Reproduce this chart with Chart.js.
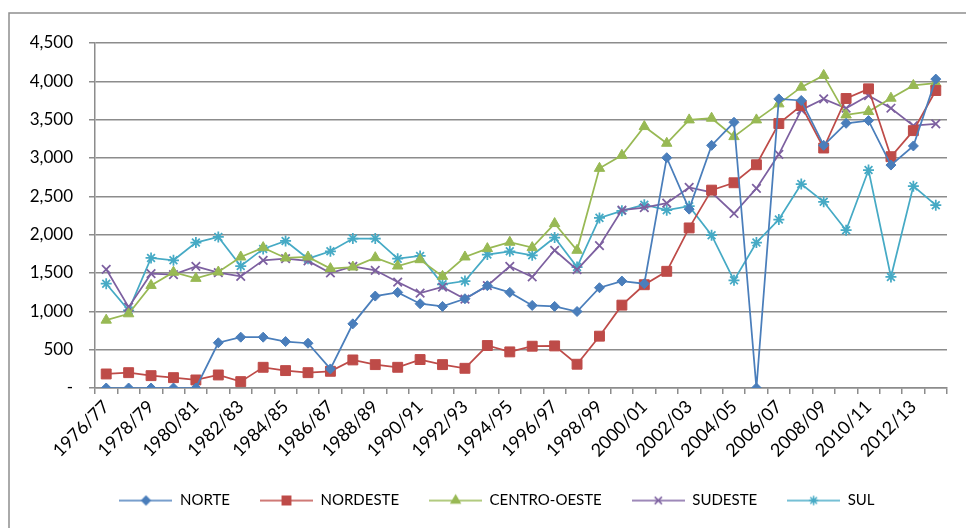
<!DOCTYPE html>
<html>
<head>
<meta charset="utf-8">
<script src="https://cdn.jsdelivr.net/npm/chart.js@4/dist/chart.umd.min.js"></script>
<style>
  html, body { margin: 0; padding: 0; background: #fff; overflow: hidden; }
  #wrap { position: relative; width: 966px; height: 528px; }
</style>
</head>
<body>
<div id="wrap"><canvas id="c" width="966" height="528"></canvas></div>
<script>
const categories = [
  "1976/77","1977/78","1978/79","1979/80","1980/81","1981/82","1982/83","1983/84","1984/85","1985/86",
  "1986/87","1987/88","1988/89","1989/90","1990/91","1991/92","1992/93","1993/94","1994/95","1995/96",
  "1996/97","1997/98","1998/99","1999/00","2000/01","2001/02","2002/03","2003/04","2004/05","2005/06",
  "2006/07","2007/08","2008/09","2009/10","2010/11","2011/12","2012/13","2013/14"
];
const norte = [0,0,0,0,0,590,663,663,606,584,249,837,1199,1247,1099,1064,1164,1334,1247,1077,
  1064,998,1308,1395,1360,3004,2333,3165,3466,0,3771,3750,3165,3453,3488,2908,3157,4029];
const nordeste = [183,200,161,135,105,170,83,270,227,200,218,366,305,270,371,305,257,554,471,545,
  549,310,676,1081,1347,1522,2088,2581,2677,2912,3449,3684,3130,3776,3902,3017,3357,3880];
const centroOeste = [885,968,1338,1510,1430,1513,1709,1831,1696,1709,1557,1578,1700,1591,1674,1456,1709,1818,1901,1831,
  2145,1796,2865,3035,3410,3192,3497,3519,3279,3497,3706,3924,4077,3562,3606,3780,3946,3976];
const sudeste = [1548,1055,1491,1478,1587,1504,1456,1666,1687,1657,1500,1587,1535,1382,1238,1317,1160,1334,1587,1448,
  1796,1543,1857,2320,2354,2411,2616,2551,2276,2603,3048,3628,3771,3649,3815,3649,3423,3444];
const sul = [1360,1012,1696,1666,1897,1971,1591,1814,1918,1687,1783,1949,1949,1687,1722,1352,1395,1740,1783,1731,
  1962,1578,2219,2311,2390,2320,2372,1993,1404,1897,2197,2660,2429,2058,2843,1448,2633,2385];
const seriesNames = ["NORTE","NORDESTE","CENTRO-OESTE","SUDESTE","SUL"];
const yTicks = [0,500,1000,1500,2000,2500,3000,3500,4000,4500];

const FONT = "Lato, 'Open Sans', sans-serif";
const FS = 18;
const styles = [
  { color: "#4a7ebb", point: "rectRot", r: 5 },
  { color: "#be4b48", point: "rect", r: 7 },
  { color: "#98b954", point: "triangle", r: 6 },
  { color: "#7d60a0", point: "crossRot", r: 6 },
  { color: "#46aac5", point: "star", r: 5.5 }
];
const seriesData = [norte, nordeste, centroOeste, sudeste, sul];

const borderPlugin = {
  id: "outerBorder",
  beforeDraw(chart) {
    const ctx = chart.ctx;
    ctx.save();
    ctx.fillStyle = "#ffffff";
    ctx.fillRect(0, 0, chart.width, chart.height);
    ctx.strokeStyle = "#8f8f8f";
    ctx.lineWidth = 1.5;
    ctx.beginPath();
    ctx.moveTo(9, chart.height + 2);
    ctx.lineTo(9, 13);
    ctx.lineTo(chart.width + 2, 13);
    ctx.stroke();
    ctx.restore();
  }
};

const datasets = seriesData.map((d, i) => ({
  label: seriesNames[i],
  data: d,
  yAxisID: "y",
  borderColor: styles[i].color,
  backgroundColor: styles[i].color,
  borderWidth: 1.75,
  pointStyle: styles[i].point,
  pointRadius: styles[i].r,
  pointHoverRadius: styles[i].r,
  pointBorderWidth: (i >= 3) ? 1.75 : 1,
  pointBorderColor: styles[i].color,
  pointBackgroundColor: styles[i].color,
  tension: 0,
  fill: false
}));

new Chart(document.getElementById("c"), {
  type: "line",
  data: { labels: categories, datasets },
  plugins: [borderPlugin],
  options: {
    responsive: false,
    animation: false,
    devicePixelRatio: 1,
    layout: { padding: { left: 28, right: 0, top: 43, bottom: 10 } },
    plugins: {
      tooltip: { enabled: false },
      legend: {
        position: "bottom",
        labels: {
          usePointStyle: true,
          pointStyleWidth: 53,
          padding: 30,
          color: "#000",
          font: { family: FONT, size: 15 },
          generateLabels(chart) {
            return chart.data.datasets.map((ds, i) => {
              const cv = document.createElement("canvas");
              cv.width = 53; cv.height = 16;
              const c = cv.getContext("2d");
              c.strokeStyle = styles[i].color; c.fillStyle = styles[i].color; c.lineWidth = 1.75;
              c.globalAlpha = 0.85;
              c.beginPath(); c.moveTo(0, 8); c.lineTo(53, 8); c.stroke();
              c.globalAlpha = 1;
              c.lineWidth = 1.5;
              Chart.helpers.drawPoint(c, { pointStyle: styles[i].point, radius: styles[i].r * 0.85, borderWidth: 1.5, rotation: 0 }, 26.5, 8);
              return {
                text: ds.label,
                fillStyle: styles[i].color,
                strokeStyle: styles[i].color,
                pointStyle: cv,
                lineWidth: 0,
                hidden: false,
                datasetIndex: i,
                fontColor: "#000"
              };
            });
          }
        }
      }
    },
    scales: {
      x: {
        type: "category",
        offset: true,
        afterFit(axis) { axis.height = 75; },
        grid: {
          offset: true,
          drawOnChartArea: false,
          drawTicks: true,
          tickLength: 6,
          color: "#8c8c8c",
          lineWidth: 1.5
        },
        border: { color: "#8c8c8c", width: 1.5 },
        ticks: {
          autoSkip: false,
          maxRotation: 45,
          minRotation: 45,
          color: "#000",
          padding: 2,
          font: { family: FONT, size: FS },
          callback(v, i) { return i % 2 === 0 ? categories[i] : ""; }
        }
      },
      y: {
        position: "left",
        min: 0,
        max: 4500,
        afterFit(axis) { axis.width = 67; },
        afterBuildTicks(axis) { axis.ticks = yTicks.map(v => ({ value: v })); },
        grid: {
          color: "#8c8c8c",
          lineWidth: 1.5,
          tickLength: 6,
          drawTicks: true
        },
        border: { color: "#8c8c8c", width: 1.5 },
        ticks: {
          color: "#000",
          padding: 16,
          font: { family: FONT, size: FS - 1 },
          callback(v) { return v === 0 ? "-" : v.toLocaleString("en-US"); }
        }
      },
      yRight: {
        type: "linear",
        position: "right",
        display: true,
        min: 0,
        max: 4500,
        afterFit(axis) { axis.width = 19; },
        grid: { drawOnChartArea: false, drawTicks: false },
        border: { display: false },
        ticks: { display: false }
      }
    }
  }
});
</script>
</body>
</html>
